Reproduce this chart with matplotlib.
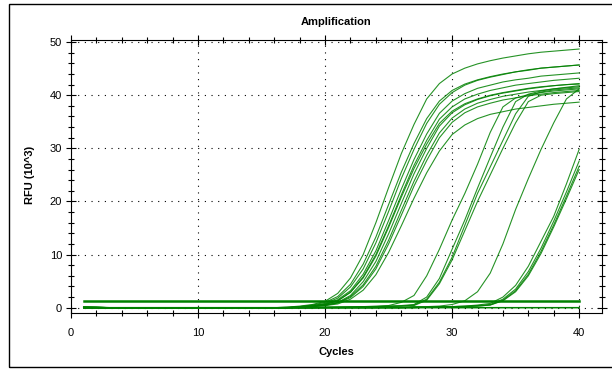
import matplotlib
matplotlib.use("Agg")
import matplotlib.pyplot as plt
from matplotlib.patches import Rectangle
from matplotlib.ticker import MultipleLocator

plt.rcParams["font.family"] = ["Liberation Sans", "DejaVu Sans"]

cycles = list(range(1, 41))

# RFU (10^3) per cycle; early wells (Ct ~ 23)
early_1 = [0.2, 0.1, 0, 0, 0, 0, 0, 0, 0, 0, 0, 0, 0, 0, 0, 0,
           0.1, 0.3, 0.6, 1.2, 2.7, 5.6, 10.0, 16.0, 22.6, 29.0, 34.5, 39.3, 42.2, 44.0,
           45.1, 45.9, 46.5, 47.0, 47.4, 47.8, 48.1, 48.3, 48.5, 48.7]
early_2 = [0, 0, 0, 0, 0, 0, 0, 0, 0, 0, 0, 0, 0, 0, 0, 0,
           0.1, 0.2, 0.5, 1.0, 2.1, 4.4, 8.2, 13.3, 19.4, 25.5, 30.9, 35.6, 38.9, 40.9,
           42.1, 42.9, 43.5, 44.0, 44.4, 44.8, 45.1, 45.3, 45.5, 45.7]
early_3 = [0.2, 0.1, 0, 0, 0, 0, 0, 0, 0, 0, 0, 0, 0, 0, 0, 0,
           0.0, 0.2, 0.4, 0.8, 1.8, 3.9, 7.3, 12.2, 18.1, 24.3, 29.8, 34.7, 38.3, 40.5,
           41.9, 42.8, 43.4, 43.9, 44.4, 44.7, 45.1, 45.3, 45.5, 45.7]
early_4 = [0, 0, 0, 0, 0, 0, 0, 0, 0, 0, 0, 0, 0, 0, 0, 0,
           0.0, 0.1, 0.4, 0.7, 1.5, 3.2, 6.3, 10.7, 16.4, 22.3, 27.9, 32.7, 36.6, 38.9,
           40.3, 41.3, 41.9, 42.5, 42.9, 43.2, 43.6, 43.8, 44.0, 44.2]
early_5 = [0, 0, 0, 0, 0, 0, 0, 0, 0, 0, 0, 0, 0, 0, 0, 0,
           0.0, 0.1, 0.3, 0.6, 1.3, 2.9, 5.8, 10.0, 15.4, 21.2, 26.8, 31.5, 35.5, 37.8,
           39.3, 40.2, 40.9, 41.4, 41.9, 42.2, 42.5, 42.8, 43.0, 43.2]
early_6 = [0, 0, 0, 0, 0, 0, 0, 0, 0, 0, 0, 0, 0, 0, 0, 0,
           0.0, 0.1, 0.3, 0.5, 1.0, 2.3, 4.9, 8.7, 13.9, 19.6, 25.2, 30.0, 34.2, 36.7,
           38.2, 39.2, 39.9, 40.4, 40.8, 41.2, 41.5, 41.8, 42.0, 42.1]
early_7 = [0, 0, 0, 0, 0, 0, 0, 0, 0, 0, 0, 0, 0, 0, 0, 0,
           0.0, 0.1, 0.3, 0.6, 1.3, 2.9, 5.6, 9.7, 15.1, 20.8, 26.2, 30.8, 34.7, 37.0,
           38.4, 39.3, 40.0, 40.5, 40.9, 41.3, 41.6, 41.8, 42.0, 42.2]
early_8 = [0, 0, 0, 0, 0, 0, 0, 0, 0, 0, 0, 0, 0, 0, 0, 0,
           0.0, 0.1, 0.2, 0.5, 0.9, 2.1, 4.3, 7.8, 12.7, 18.3, 23.8, 28.7, 32.9, 35.7,
           37.4, 38.5, 39.2, 39.8, 40.2, 40.6, 40.9, 41.2, 41.4, 41.6]
early_9 = [0, 0, 0, 0, 0, 0, 0, 0, 0, 0, 0, 0, 0, 0, 0, 0,
           0.0, 0.1, 0.2, 0.4, 0.9, 1.9, 4.0, 7.3, 12.0, 17.4, 22.9, 27.7, 32.0, 34.9,
           36.7, 37.8, 38.5, 39.1, 39.5, 39.9, 40.2, 40.5, 40.7, 40.9]
early_10 = [0, 0, 0, 0, 0, 0, 0, 0, 0, 0, 0, 0, 0, 0, 0, 0,
            0.0, 0.0, 0.2, 0.4, 0.7, 1.6, 3.3, 6.2, 10.4, 15.4, 20.6, 25.4, 29.5, 32.6,
            34.4, 35.6, 36.4, 36.9, 37.4, 37.7, 38.0, 38.3, 38.5, 38.7]

# middle wells (Ct ~ 29)
mid_1 = [0, 0, 0, 0, 0, 0, 0, 0, 0, 0, 0, 0, 0, 0, 0, 0, 0, 0, 0, 0.1,
         0.1, 0.2, 0.2, 0.3, 0.4, 1.0, 2.3, 6.0, 11.0, 16.5,
         21.5, 27.0, 33.0, 37.8, 39.5, 40.1, 40.5, 40.8, 41.0, 41.2]
mid_2 = [0, 0, 0, 0, 0, 0, 0, 0, 0, 0, 0, 0, 0, 0, 0, 0, 0, 0, 0, 0.1,
         0.1, 0.1, 0.2, 0.2, 0.3, 0.4, 0.6, 2.0, 5.5, 11.0,
         16.5, 22.5, 28.3, 34.0, 38.8, 40.2, 40.8, 41.2, 41.5, 41.8]
mid_3 = [0, 0, 0, 0, 0, 0, 0, 0, 0, 0, 0, 0, 0, 0, 0, 0, 0, 0, 0, 0.1,
         0.1, 0.1, 0.2, 0.2, 0.3, 0.3, 0.5, 1.6, 4.8, 9.5,
         15.5, 21.5, 26.5, 31.5, 36.5, 39.8, 40.6, 41.0, 41.2, 41.4]
mid_4 = [0, 0, 0, 0, 0, 0, 0, 0, 0, 0, 0, 0, 0, 0, 0, 0, 0, 0, 0, 0.0,
         0.1, 0.1, 0.1, 0.2, 0.2, 0.3, 0.4, 1.4, 4.5, 9.0,
         14.5, 20.0, 25.0, 30.0, 34.8, 38.8, 40.0, 40.3, 40.5, 40.7]

# late well (Ct ~ 33)
late_1 = [0, 0, 0, 0, 0, 0, 0, 0, 0, 0, 0, 0, 0, 0, 0, 0, 0, 0, 0, 0,
          0, 0, 0, 0, 0.1, 0.1, 0.2, 0.2, 0.3, 0.6,
          1.3, 3.0, 6.5, 12.0, 18.5, 24.3, 29.8, 34.8, 39.3, 41.2]

# latest wells (Ct ~ 36)
last_1 = [0, 0, 0, 0, 0, 0, 0, 0, 0, 0, 0, 0, 0, 0, 0, 0, 0, 0, 0, 0,
          0, 0, 0, 0, 0, 0, 0.1, 0.1, 0.2, 0.2,
          0.3, 0.5, 0.8, 2.0, 4.2, 7.8, 12.5, 17.2, 23.3, 29.8]
last_2 = [0, 0, 0, 0, 0, 0, 0, 0, 0, 0, 0, 0, 0, 0, 0, 0, 0, 0, 0, 0,
          0, 0, 0, 0, 0, 0, 0.1, 0.1, 0.2, 0.2,
          0.3, 0.4, 0.6, 1.6, 3.5, 6.8, 11.2, 16.3, 21.8, 27.6]
last_3 = [0, 0, 0, 0, 0, 0, 0, 0, 0, 0, 0, 0, 0, 0, 0, 0, 0, 0, 0, 0,
          0, 0, 0, 0, 0, 0, 0.0, 0.1, 0.1, 0.2,
          0.2, 0.3, 0.5, 1.4, 3.2, 6.3, 10.6, 15.6, 21.0, 26.6]
last_4 = [0, 0, 0, 0, 0, 0, 0, 0, 0, 0, 0, 0, 0, 0, 0, 0, 0, 0, 0, 0,
          0, 0, 0, 0, 0, 0, 0.0, 0.1, 0.1, 0.2,
          0.2, 0.3, 0.5, 1.3, 3.0, 6.0, 10.2, 15.2, 20.5, 26.0]

# no-template controls (flat)
ntc_1 = [1.3, 1.3, 1.3, 1.3, 1.3, 1.3, 1.3, 1.3, 1.3, 1.3, 1.3, 1.3, 1.3, 1.3, 1.3, 1.3, 1.3, 1.3, 1.3, 1.3,
         1.3, 1.3, 1.3, 1.3, 1.3, 1.3, 1.3, 1.3, 1.3, 1.3, 1.3, 1.3, 1.3, 1.3, 1.3, 1.3, 1.3, 1.3, 1.3, 1.3]
ntc_2 = [0.1, 0.1, 0, 0, 0, 0, 0, 0, 0, 0, 0, 0, 0, 0, 0, 0, 0, 0, 0, 0,
         0, 0, 0, 0, 0, 0, 0, 0, 0, 0, 0, 0, 0, 0, 0, 0, 0, 0, 0, 0]

amplified = [early_1, early_2, early_3, early_4, early_5, early_6, early_7, early_8, early_9, early_10,
             mid_1, mid_2, mid_3, mid_4, late_1, last_1, last_2, last_3, last_4]

GREEN = "#008000"

fig = plt.figure(figsize=(6.12, 3.71), dpi=100)
# outer frame; right edge falls just outside the image like the reference
fig.patches.append(Rectangle((9 / 612, 4 / 371), 610 / 612, 363 / 371, transform=fig.transFigure,
                             fill=False, edgecolor="black", linewidth=1.0))

ax = fig.add_axes([71 / 612, 58 / 371, 531 / 612, 273 / 371])

for series in amplified:
    ax.plot(cycles, series, color=GREEN, linewidth=0.8, alpha=0.85)
ax.plot(cycles, ntc_1, color=GREEN, linewidth=1.8)
ax.plot(cycles, ntc_2, color=GREEN, linewidth=1.1)

ax.set_xlim(0, 41.8)
ax.set_ylim(-1.0, 50.4)
ax.xaxis.set_major_locator(MultipleLocator(10))
ax.xaxis.set_minor_locator(MultipleLocator(2))
ax.yaxis.set_major_locator(MultipleLocator(10))
ax.yaxis.set_minor_locator(MultipleLocator(2))
ax.tick_params(which="both", direction="inout", top=True, right=True, labelsize=8, width=0.8)
ax.tick_params(which="major", length=7)
ax.tick_params(which="minor", length=4.5)
ax.tick_params(axis="x", pad=7)
ax.tick_params(axis="y", pad=3)
ax.grid(which="major", color="black", linewidth=0.8, linestyle=(0, (1, 5)))
for sp in ax.spines.values():
    sp.set_linewidth(0.8)

fig.text(336 / 612, 1 - 22 / 371, "Amplification", ha="center", va="center", fontsize=8, fontweight="bold")
fig.text(336 / 612, 1 - 352 / 371, "Cycles", ha="center", va="center", fontsize=8, fontweight="bold")
fig.text(30 / 612, 1 - 175 / 371, "RFU (10^3)", ha="center", va="center", rotation=90,
         fontsize=8, fontweight="bold")

fig.savefig("out.png", dpi=100)
